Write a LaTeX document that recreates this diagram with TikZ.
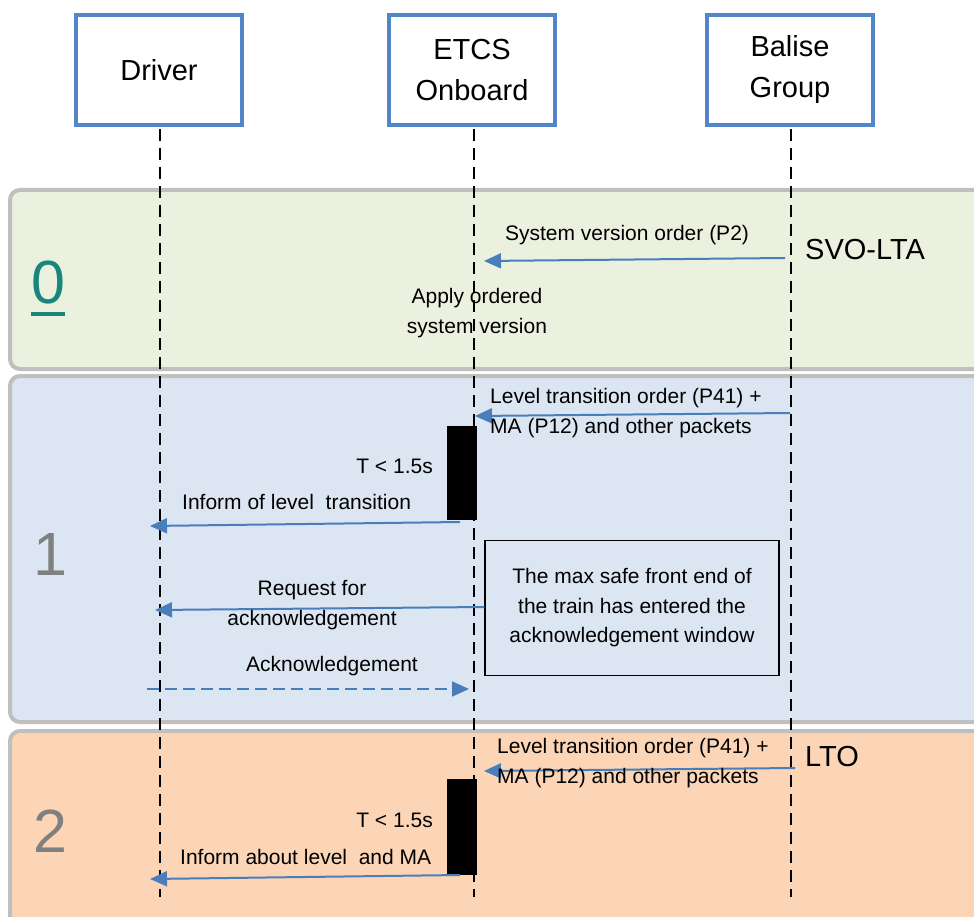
\documentclass[tikz,border=0pt]{standalone}
\usepackage{fontspec}
\setmainfont{Liberation Sans}
\usetikzlibrary{arrows.meta}
\definecolor{boxblue}{HTML}{5386C6}
\definecolor{arrblue}{HTML}{4A7EBB}
\definecolor{bandgreen}{HTML}{EBF1DE}
\definecolor{bandblue}{HTML}{DCE6F2}
\definecolor{bandorange}{HTML}{FBD5B5}
\definecolor{bandline}{HTML}{BFBFBF}
\definecolor{tealzero}{HTML}{17877B}
\definecolor{numgray}{HTML}{808080}
\begin{document}
\begin{tikzpicture}[x=1pt,y=-1pt,
  actor/.style={draw=boxblue, line width=4.5pt, fill=white, minimum width=166pt, minimum height=110pt, align=center, font=\fontsize{29}{41}\selectfont, inner sep=0pt},
  lifeline/.style={line width=2.6pt, dash pattern=on 12pt off 7pt},
  band/.style={draw=bandline, line width=4pt, rounded corners=10pt},
  msg/.style={draw=arrblue, line width=2pt, -{Triangle[length=17pt,width=15pt]}},
  dmsg/.style={msg, dash pattern=on 12pt off 6pt},
  lbl/.style={font=\fontsize{21}{29.5}\selectfont, inner sep=0pt},
  big/.style={font=\fontsize{29}{34}\selectfont, inner sep=0pt},
  num/.style={font=\fontsize{61}{70}\selectfont, text=numgray, inner sep=0pt},
  actbar/.style={fill=black, draw=none, minimum width=30pt, inner sep=0pt}
]
\useasboundingbox (0,0) rectangle (974,917);
\clip (0,0) rectangle (974,917);
\fill[white] (0,0) rectangle (974,917);
% bands
\draw[band, fill=bandgreen] (10,190) rectangle (1000,369);
\draw[band, fill=bandblue] (10,376) rectangle (1000,722);
\draw[band, fill=bandorange] (10,731) rectangle (1000,960);
% phase numbers
\node[num, text=tealzero, anchor=base] (n0) at (48,303) {\setbox0\hbox{0}\rlap{\rule[-13pt]{\wd0}{4pt}}0};
\node[num] (n1) at (50,555) {1};
\node[num] (n2) at (50,831) {2};
% actors
\node[actor] (drv) at (159,70) {Driver};
\node[actor] (etcs) at (472,70) {ETCS\\Onboard};
\node[actor] (bal) at (790,70) {Balise\\Group};
\coordinate (bot) at (0,897);
% activation bars
\node[actbar, minimum height=94pt] (bar1) at (462,473) {};
\node[actbar, minimum height=96pt] (bar2) at (462,827) {};
% lifelines
\draw[lifeline] (160,129) coordinate (ldrv) -- (ldrv |- bot);
\draw[lifeline] (474,129) coordinate (letcs) -- (letcs |- bot);
\draw[lifeline] (791,129) coordinate (lbal) -- (lbal |- bot);
% phase 0
\coordinate (s0a) at (785,258);
\coordinate (s0b) at (484,261);
\draw[msg] (s0a) -- (s0b);
\node[lbl] (t0) at (627,235) {System version order (P2)};
\node[big, anchor=west] (svo) at (805,250) {SVO-LTA};
\node[lbl, align=center] (apply) at (477,313) {Apply ordered\\system version};
% phase 1
\coordinate (s1a) at (790,413);
\coordinate (s1b) at (475,416);
\draw[msg] (s1a) -- (s1b);
\node[lbl, anchor=west, align=left] (lto1) at (490,413) {Level transition order (P41) +\\MA (P12) and other packets};
\node[lbl, anchor=east] (tt1) at (433,466) {T < 1.5s};
\coordinate (i1a) at (460,522);
\coordinate (i1b) at (150,526);
\draw[msg] (i1a) -- (i1b);
\node[lbl, anchor=west] (inf1) at (182,502) {Inform of level\ \ transition};
\node[draw, line width=1.3pt, minimum width=294pt, minimum height=135pt, align=center, lbl] (win) at (632,608) {The max safe front end of\\the train has entered the\\acknowledgement window};
\coordinate (r1b) at (155,610);
\draw[msg] (win.west |- 0,607) -- (r1b);
\node[lbl, align=center] (req) at (312,605) {Request for\\acknowledgement};
\coordinate (a1a) at (147,689);
\coordinate (a1b) at (469,689);
\draw[dmsg] (a1a) -- (a1b);
\node[lbl] (ack) at (332,666) {Acknowledgement};
% phase 2
\coordinate (s2a) at (795,768);
\coordinate (s2b) at (484,771);
\draw[msg] (s2a) -- (s2b);
\node[lbl, anchor=west, align=left] (lto2) at (497,763) {Level transition order (P41) +\\MA (P12) and other packets};
\node[big, anchor=west] (ltolbl) at (805,757) {LTO};
\node[lbl, anchor=east] (tt2) at (433,820) {T < 1.5s};
\coordinate (i2a) at (460,875);
\coordinate (i2b) at (150,879);
\draw[msg] (i2a) -- (i2b);
\node[lbl, anchor=west] (inf2) at (180,857) {Inform about level\ \ and MA};
\end{tikzpicture}
\end{document}
